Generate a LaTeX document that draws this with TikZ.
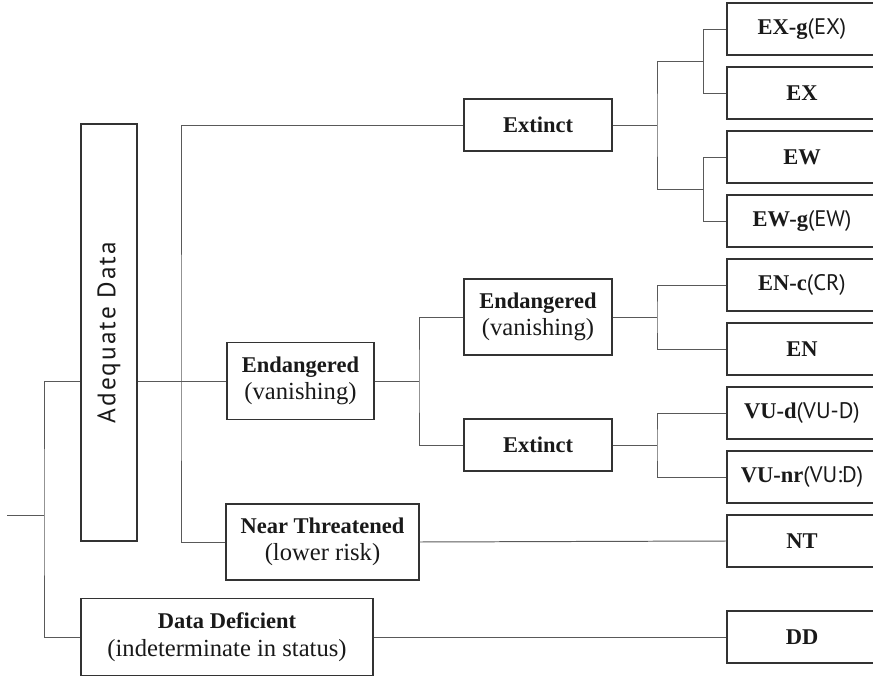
\documentclass[tikz,border=0pt]{standalone}
\usepackage{fontspec}
\setmainfont{Liberation Serif}
\newfontfamily\codefont{PT Sans}
\newfontfamily\spacedfont[LetterSpace=8]{PT Sans}
\newcommand{\status}[1]{{\fontsize{17.5}{19.5}\selectfont #1}}
\usetikzlibrary{calc}

\begin{document}
\begin{tikzpicture}[
  x=1cm,y=1cm,
  base/.style={draw=black!80, line width=0.8pt, align=center, inner sep=2pt, text=black!90, font=\fontsize{16}{19.5}\selectfont},
  leaf/.style={base, minimum width=3.75cm, minimum height=1.3cm},
  mid/.style={base, minimum width=3.7cm},
  link/.style={draw=black!65, line width=0.7pt}
]
\useasboundingbox (0,0) rectangle (21.825,-16.925);

\node[base, rotate=90, minimum width=10.425cm, minimum height=1.4cm, font=\spacedfont\fontsize{18}{20}\selectfont] (ad) at (2.725,-8.3125) {Adequate Data};
\node[base, minimum width=3.675cm, minimum height=1.925cm] (en1) at (7.5125,-9.525) {\textbf{Endangered}\\\status{(vanishing)}};
\node[base, minimum width=4.825cm, minimum height=1.9cm] (nt) at (8.0625,-13.55) {\textbf{Near Threatened}\\\status{(lower risk)}};
\node[base, minimum width=7.3cm, minimum height=1.925cm] (dd) at (5.675,-15.925) {\textbf{Data Deficient}\\\status{(indeterminate in status)}};

\node[mid, minimum height=1.3cm] (ext1) at (13.45,-3.125) {\textbf{Extinct}};
\node[mid, minimum height=1.9cm] (en2) at (13.45,-7.925) {\textbf{Endangered}\\\status{(vanishing)}};
\node[mid, minimum height=1.3cm] (ext2) at (13.45,-11.125) {\textbf{Extinct}};

\node[leaf] (exg) at (20.05,-0.725) {\textbf{EX-g}{\codefont(EX)}};
\node[leaf] (ex) at (20.05,-2.325) {\textbf{EX}};
\node[leaf] (ew) at (20.05,-3.925) {\textbf{EW}};
\node[leaf] (ewg) at (20.05,-5.525) {\textbf{EW-g}{\codefont(EW)}};
\node[leaf] (enc) at (20.05,-7.125) {\textbf{EN-c}{\codefont(CR)}};
\node[leaf] (en) at (20.05,-8.725) {\textbf{EN}};
\node[leaf] (vud) at (20.05,-10.325) {\textbf{VU-d}{\codefont(VU-D)}};
\node[leaf] (vunr) at (20.05,-11.925) {\textbf{VU-nr}{\codefont(VU:D)}};
\node[leaf] (ntc) at (20.05,-13.525) {\textbf{NT}};
\node[leaf] (ddc) at (20.05,-15.925) {\textbf{DD}};

\coordinate (root) at (0.175,-12.875);
\coordinate (rf) at (1.1,-12.875);
\coordinate (spine) at (4.525,-9.525);
\coordinate (km) at (10.475,-9.525);
\coordinate (k1) at (16.425,-3.125);
\coordinate (k1a) at (17.575,-1.525);
\coordinate (k1b) at (17.575,-4.725);
\coordinate (k2) at (16.425,-7.925);
\coordinate (k3) at (16.425,-11.125);

\draw[link] (root) -- (rf);
\draw[link] (ad.north |- en1.west) -| (rf) |- (dd.west);
\draw[link] (ad.south |- en1.west) -- (en1.west);
\draw[link] (ext1.west) -| (spine) |- (nt.west);
\draw[link] (en1.east) -- (km);
\draw[link] (en2.west) -| (km) |- (ext2.west);
\draw[link] (ext1.east) -- (k1);
\draw[link] (k1a) -| (k1) |- (k1b);
\draw[link] (exg.west) -| (k1a) |- (ex.west);
\draw[link] (ew.west) -| (k1b) |- (ewg.west);
\draw[link] (en2.east) -- (k2);
\draw[link] (enc.west) -| (k2) |- (en.west);
\draw[link] (ext2.east) -- (k3);
\draw[link] (vud.west) -| (k3) |- (vunr.west);
\draw[link] (nt.east) -- (ntc.west);
\draw[link] (dd.east) -- (ddc.west);
\end{tikzpicture}
\end{document}
